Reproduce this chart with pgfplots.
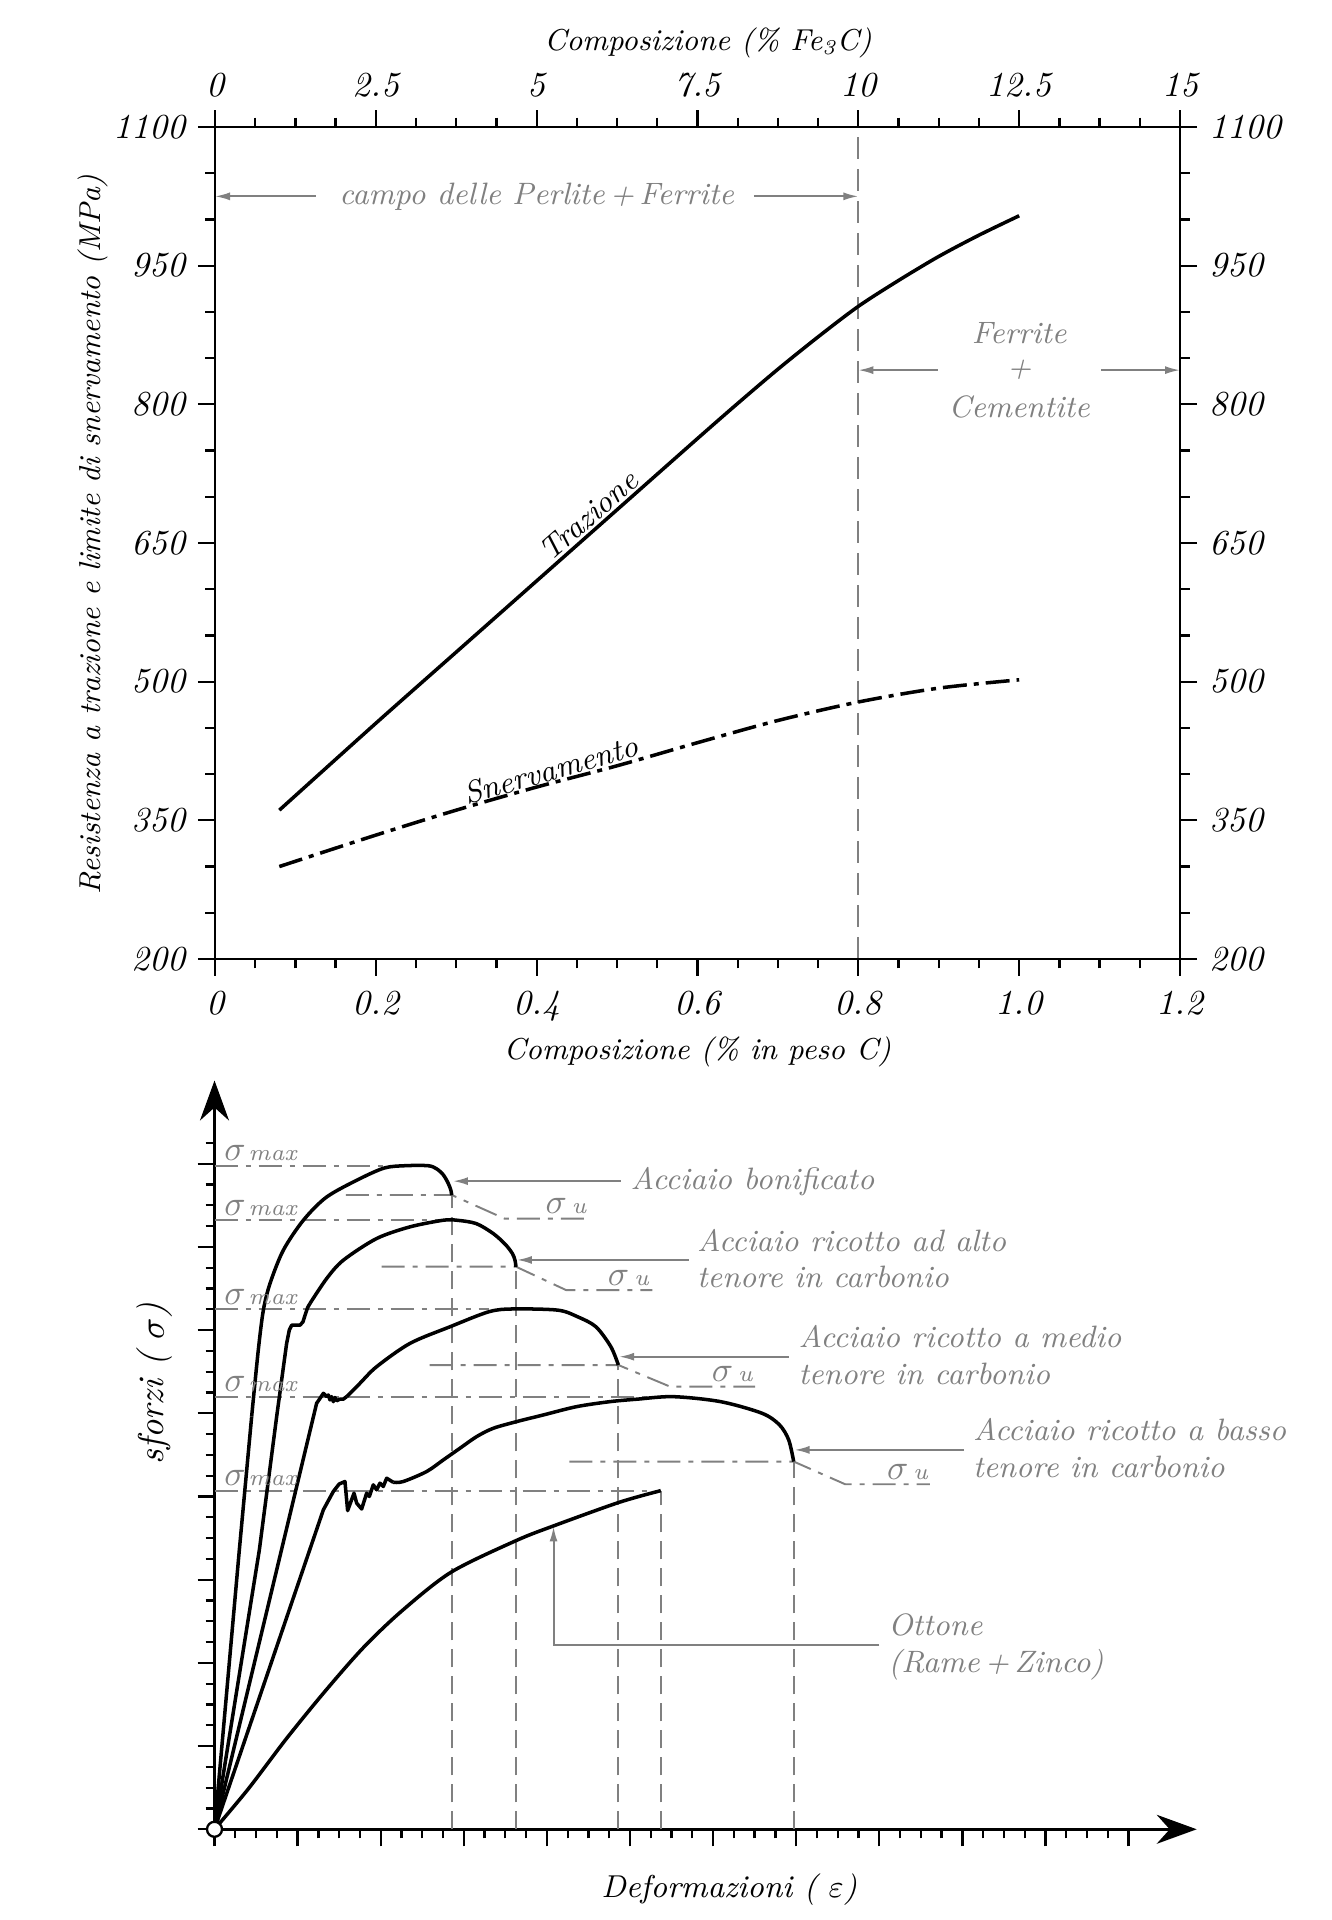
\documentclass[border=0pt]{standalone}
\usepackage{pgfplots}
\pgfplotsset{compat=1.18}
\usetikzlibrary{arrows.meta}
\definecolor{gr}{gray}{0.5}
\newcommand{\ann}{\fontsize{8.8}{10.4}\selectfont\itshape}
\newcommand{\axl}{\fontsize{8.6}{10}\selectfont\itshape}
\newcommand{\smax}{{\fontsize{10}{10}\selectfont$\sigma$}\hspace{0.3mm}{\fontsize{6.5}{7}\selectfont\itshape max}}
\newcommand{\su}{{\fontsize{10}{10}\selectfont$\sigma$}\hspace{0.5mm}{\fontsize{6.5}{7}\selectfont\itshape u}}
\begin{document}
\begin{tikzpicture}[x=1cm,y=1cm]
\useasboundingbox (0,0) rectangle (13.31,19.20);
\pgfplotsset{
  curve/.style={black, line width=1.0pt, line join=round},
  gdd/.style={gr, line width=0.55pt, dash pattern=on 2.3mm off 0.8mm on 0.5mm off 0.8mm},
  gdash/.style={gr, line width=0.55pt, dash pattern=on 1.8mm off 0.9mm},
  lead/.style={gr, line width=0.55pt, -{Latex[length=1.5mm,width=0.8mm]}},
}
% ---------------- top chart: main axis (bottom / left)
\begin{axis}[
  at={(2.15cm,9.61cm)}, anchor=south west,
  width=9.65cm, height=8.32cm, scale only axis,
  xmin=0, xmax=1.2, ymin=200, ymax=1100,
  xtick={0,0.2,0.4,0.6,0.8,1.0,1.2},
  xticklabels={0,0.2,0.4,0.6,0.8,1.0,1.2},
  minor x tick num=3,
  ytick={200,350,500,650,800,950,1100},
  yticklabels={200,350,500,650,800,950,1100},
  minor y tick num=2,
  xtick pos=left, ytick pos=left,
  tick align=outside,
  major tick length=1.7mm, minor tick length=0.95mm,
  tick style={black, line width=0.65pt},
  axis line style={line width=0.7pt},
  /pgf/number format/assume math mode=true,
  tick label style={font=\fontsize{10}{11}\selectfont\itshape},
  xticklabel style={yshift=-0.3mm},
  xlabel={Composizione (\% in peso C)},
  xlabel style={at={(axis description cs:0.5,-0.1114)}, anchor=center, font=\axl},
  ylabel={Resistenza a trazione e limite di snervamento (MPa)},
  ylabel style={at={(axis description cs:-0.1264,0.51)}, anchor=center, font=\axl},
  clip=false,
]
\addplot[gr, line width=0.55pt, dash pattern=on 2.2mm off 1mm] coordinates {(0.8,200) (0.8,1100)};
\addplot[lead] coordinates {(0.125,1025) (0,1025)};
\addplot[lead] coordinates {(0.67,1025) (0.8,1025)};
\addplot[lead] coordinates {(0.899,837) (0.8,837)};
\addplot[lead] coordinates {(1.102,837) (1.2,837)};
\addplot[curve, smooth] coordinates {(0.08,361) (0.2,455) (0.3,532) (0.4,609) (0.5,686) (0.6,763) (0.65,801) (0.7,838) (0.75,873) (0.8,906) (0.85,934) (0.9,960) (0.95,983) (1.0,1004)};
\addplot[curve, smooth, dash pattern=on 2.4mm off 0.7mm on 0.5mm off 0.7mm] coordinates {(0.08,300) (0.2,334) (0.3,361) (0.4,386) (0.5,409) (0.6,434) (0.7,458) (0.8,478) (0.9,493) (1.0,502)};
\node[gr, font=\ann] at (axis cs:0.40,1025) {campo delle Perlite\,+\,Ferrite};
\node[gr, font=\ann] at (axis cs:1.0,877) {Ferrite};
\node[gr, font=\ann] at (axis cs:1.0,837) {+};
\node[gr, font=\ann] at (axis cs:1.0,797.5) {Cementite};
\node[rotate=41.3, anchor=south, inner sep=0.8pt, font=\ann] at (axis cs:0.476,668) {Trazione};
\node[rotate=16, anchor=south, inner sep=0.3pt, font=\ann] at (axis cs:0.4224,391) {Snervamento};
\end{axis}
% ---------------- top chart: secondary axis (top / right)
\begin{axis}[
  at={(2.15cm,9.61cm)}, anchor=south west,
  width=9.65cm, height=8.32cm, scale only axis,
  xmin=0, xmax=15, ymin=200, ymax=1100,
  xtick={0,2.5,5,7.5,10,12.5,15},
  xticklabels={0,2.5,5,7.5,10,12.5,15},
  minor x tick num=3,
  ytick={200,350,500,650,800,950,1100},
  yticklabels={200,350,500,650,800,950,1100},
  minor y tick num=2,
  xtick pos=right, ytick pos=right,
  xticklabel pos=right, yticklabel pos=right,
  tick align=outside,
  major tick length=1.7mm, minor tick length=0.95mm,
  tick style={black, line width=0.65pt},
  axis line style={line width=0.7pt},
  /pgf/number format/assume math mode=true,
  tick label style={font=\fontsize{10}{11}\selectfont\itshape},
  xlabel={Composizione (\% Fe\textsubscript{3}C)},
  xlabel style={at={(axis description cs:0.511,1.101)}, anchor=center, font=\axl},
]
\end{axis}
% ---------------- bottom chart
\begin{axis}[
  at={(2.145cm,0.907cm)}, anchor=south west,
  width=9.822cm, height=7.488cm, scale only axis,
  xmin=0, xmax=11.82, ymin=0, ymax=9,
  axis x line=bottom, axis y line=left,
  x axis line style={line width=0.75pt, -{Stealth[length=4mm,width=2.9mm,inset=1.3mm]}},
  y axis line style={line width=0.75pt, -{Stealth[length=4mm,width=2.9mm,inset=1.3mm]}},
  xtick={0,1,...,11}, minor xtick={0.25,0.5,...,11},
  ytick={0,1,...,8}, minor ytick={0.25,0.5,...,8.25},
  xticklabels={}, yticklabels={},
  tick align=outside,
  major tick length=1.7mm, minor tick length=0.9mm,
  tick style={black, line width=0.65pt},
  xlabel={Deformazioni ( $\varepsilon$)},
  xlabel style={at={(axis description cs:0.524,-0.081)}, anchor=center, font=\fontsize{9}{10}\selectfont\itshape},
  ylabel={sforzi ( $\sigma$)},
  ylabel style={at={(axis description cs:-0.0606,0.595)}, anchor=center, font=\fontsize{10.2}{11}\selectfont\itshape},
  clip=false,
]
% sigma max lines
\addplot[gdd] coordinates {(0,7.976) (2.15,7.976)};
\addplot[gdd] coordinates {(0,7.32) (2.71,7.32)};
\addplot[gdd] coordinates {(0,6.254) (3.30,6.254)};
\addplot[gdd] coordinates {(0,5.20) (5.45,5.20)};
\addplot[gdd] coordinates {(0,4.07) (5.37,4.07)};
% sigma u lines
\addplot[gdd] coordinates {(1.58,7.624) (2.854,7.624) (3.49,7.34) (4.48,7.34)};
\addplot[gdd] coordinates {(2.01,6.762) (3.628,6.762) (4.233,6.48) (5.27,6.48)};
\addplot[gdd] coordinates {(2.59,5.58) (4.86,5.58) (5.484,5.32) (6.505,5.32)};
\addplot[gdd] coordinates {(4.27,4.42) (6.97,4.42) (7.59,4.147) (8.61,4.147)};
% dashed verticals
\addplot[gdash] coordinates {(2.854,0) (2.854,7.624)};
\addplot[gdash] coordinates {(3.628,0) (3.628,6.762)};
\addplot[gdash] coordinates {(4.86,0) (4.86,5.58)};
\addplot[gdash] coordinates {(5.37,0) (5.37,4.07)};
\addplot[gdash] coordinates {(6.97,0) (6.97,4.42)};
% leaders
\addplot[lead] coordinates {(4.89,7.79) (2.87,7.79)};
\addplot[lead] coordinates {(5.71,6.843) (3.64,6.843)};
\addplot[lead] coordinates {(6.913,5.68) (4.87,5.68)};
\addplot[lead] coordinates {(9.02,4.56) (6.98,4.56)};
\addplot[lead] coordinates {(8.0,2.22) (4.08,2.22) (4.08,3.64)};
% curve 1: acciaio bonificato
\addplot[curve] coordinates {(0,0) (0.299,3.36) (0.447,4.96)};
\addplot[curve, smooth] coordinates {(0.447,4.96) (0.527,5.76) (0.588,6.24) (0.668,6.56) (0.828,6.96) (1.069,7.32) (1.35,7.60) (1.75,7.82) (2.05,7.95) (2.3,7.976) (2.57,7.976) (2.67,7.94) (2.75,7.87) (2.81,7.77) (2.845,7.68) (2.854,7.62)};
% curve 2: alto tenore
\addplot[curve] coordinates {(0,0) (0.54,3.36) (0.748,4.96) (0.868,5.84) (0.90,6.00) (0.93,6.06) (1.03,6.06) (1.065,6.10) (1.09,6.18) (1.12,6.27) (1.149,6.32)};
\addplot[curve, smooth] coordinates {(1.149,6.32) (1.35,6.62) (1.55,6.84) (1.95,7.10) (2.35,7.24) (2.75,7.32) (2.92,7.32) (3.15,7.28) (3.355,7.16) (3.50,7.03) (3.585,6.92) (3.616,6.84) (3.628,6.76)};
% curve 3: medio tenore
\addplot[curve] coordinates {(0,0) (1.229,5.12) (1.27,5.18) (1.31,5.24) (1.35,5.20) (1.37,5.22) (1.39,5.16) (1.41,5.20) (1.43,5.14) (1.45,5.19) (1.47,5.15) (1.51,5.17) (1.55,5.17) (1.59,5.20)};
\addplot[curve, smooth] coordinates {(1.59,5.20) (1.75,5.36) (1.951,5.56) (2.352,5.84) (2.834,6.04) (3.30,6.22) (3.59,6.254) (4.13,6.24) (4.37,6.16) (4.59,6.04) (4.77,5.80) (4.86,5.58)};
% curve 4: basso tenore
\addplot[curve] coordinates {(0,0) (1.31,3.84) (1.43,4.06) (1.50,4.15) (1.57,4.18) (1.602,3.83) (1.679,4.04) (1.711,3.92) (1.771,3.85) (1.831,4.04) (1.863,4.00) (1.911,4.14) (1.951,4.08) (1.991,4.16) (2.031,4.12) (2.072,4.22) (2.152,4.17)};
\addplot[curve, smooth] coordinates {(2.152,4.17) (2.272,4.18) (2.553,4.30) (2.754,4.44) (2.954,4.58) (3.155,4.72) (3.355,4.82) (3.636,4.90) (3.957,4.98) (4.358,5.08) (4.759,5.14) (5.09,5.17) (5.52,5.20) (6.09,5.14) (6.59,5.0) (6.80,4.86) (6.91,4.68) (6.97,4.42)};
% ottone
\addplot[curve, smooth] coordinates {(0,0) (0.407,0.486) (0.866,1.09) (1.327,1.655) (1.788,2.18) (2.249,2.62) (2.847,3.09) (3.63,3.47) (4.09,3.65) (4.87,3.93) (5.37,4.07)};
% origin circle
\addplot[only marks, mark=*, mark size=0.75mm, mark options={fill=white, draw=black, line width=0.65pt}] coordinates {(0,0)};
% labels
\node[gr, anchor=south west, inner sep=0, yshift=0.4mm] at (axis cs:0.11,7.976) {\smax};
\node[gr, anchor=south west, inner sep=0, yshift=0.4mm] at (axis cs:0.11,7.32) {\smax};
\node[gr, anchor=south west, inner sep=0, yshift=0.4mm] at (axis cs:0.11,6.254) {\smax};
\node[gr, anchor=south west, inner sep=0, yshift=0.4mm] at (axis cs:0.11,5.20) {\smax};
\node[gr, anchor=south west, inner sep=0, yshift=0.4mm] at (axis cs:0.11,4.07) {\smax};
\node[gr, anchor=south, inner sep=0, yshift=0.4mm] at (axis cs:4.23,7.34) {\su};
\node[gr, anchor=south, inner sep=0, yshift=0.4mm] at (axis cs:4.98,6.48) {\su};
\node[gr, anchor=south, inner sep=0, yshift=0.4mm] at (axis cs:6.23,5.32) {\su};
\node[gr, anchor=south, inner sep=0, yshift=0.4mm] at (axis cs:8.34,4.147) {\su};
\node[gr, anchor=west, inner sep=0, font=\ann] at (axis cs:5.00,7.79) {Acciaio bonificato};
\node[gr, anchor=west, inner sep=0, align=left, font=\ann] at (axis cs:5.80,6.862) {Acciaio ricotto ad alto\\tenore in carbonio};
\node[gr, anchor=west, inner sep=0, align=left, font=\ann] at (axis cs:7.02,5.70) {Acciaio ricotto a medio\\tenore in carbonio};
\node[gr, anchor=west, inner sep=0, align=left, font=\ann] at (axis cs:9.12,4.58) {Acciaio ricotto a basso\\tenore in carbonio};
\node[gr, anchor=west, inner sep=0, align=left, font=\ann] at (axis cs:8.10,2.19) {Ottone\\(Rame\,+\,Zinco)};
\end{axis}
\end{tikzpicture}
\end{document}
